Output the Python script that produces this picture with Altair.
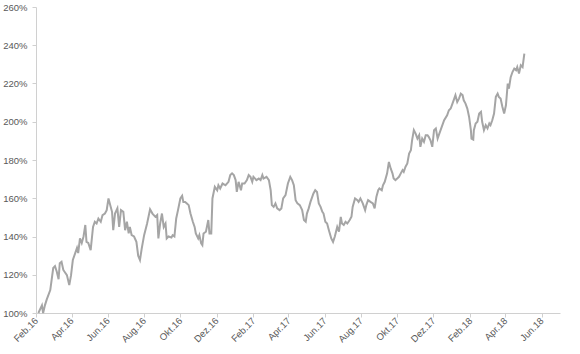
import altair as alt
import pandas as pd

# days since 2016-02-01
days = [4, 10, 12, 15, 18, 24, 29, 32, 35, 38, 40, 43, 46, 52, 56, 59, 62, 66, 69, 71,
        74, 77, 80, 83, 85, 88, 92, 96, 99, 102, 105, 109, 112, 116, 119, 122, 125, 128, 130, 133,
        137, 140, 143, 147, 150, 153, 156, 158, 161, 165, 169, 172, 175, 178, 182, 187, 192, 196, 201, 204,
        206, 209, 212, 215, 218, 220, 223, 228, 230, 233, 236, 239, 243, 246, 248, 251, 254, 257, 260, 264,
        267, 269, 273, 275, 278, 280, 282, 286, 290, 292, 295, 297, 301, 305, 307, 310, 314, 319, 324, 327,
        330, 333, 336, 338, 341, 345, 347, 351, 355, 358, 361, 364, 366, 371, 375, 378, 381, 383, 388, 392,
        395, 397, 400, 403, 406, 410, 413, 416, 420, 424, 428, 431, 434, 437, 440, 444, 448, 451, 454, 456,
        459, 462, 467, 470, 473, 476, 479, 482, 484, 487, 490, 493, 497, 500, 503, 507, 510, 513, 515, 518,
        521, 524, 528, 531, 533, 537, 541, 543, 546, 550, 554, 556, 559, 563, 567, 570, 573, 576, 578, 582,
        584, 587, 591, 594, 597, 600, 602, 605, 608, 611, 614, 617, 619, 622, 625, 628, 631, 633, 636, 639,
        642, 645, 647, 650, 653, 656, 659, 661, 664, 667, 670, 673, 676, 678, 681, 687, 692, 695, 698, 701,
        704, 706, 709, 712, 715, 718, 720, 723, 726, 729, 732, 733, 736, 737, 740, 743, 746, 749, 751, 754,
        757, 760, 763, 765, 768, 771, 774, 777, 779, 782, 785, 788, 791, 794, 796, 799, 802, 805, 808, 810,
        813, 816, 819, 822]

# performance in percent
values = [100.0, 104.0, 100.0, 104.0, 107.0, 112.0, 123.5, 124.5, 121.6, 117.7, 126.0, 126.8, 122.5, 119.8, 114.6, 119.8, 127.7, 131.3, 134.0, 131.3,
          139.0, 136.6, 140.0, 146.0, 137.2, 136.6, 132.9, 145.0, 147.7, 146.8, 149.4, 147.7, 151.2, 152.0, 153.8, 159.9, 156.4, 152.9, 143.3, 152.0,
          154.7, 145.0, 153.8, 152.9, 143.3, 147.7, 141.6, 145.0, 140.7, 140.0, 137.2, 130.0, 127.7, 133.8, 140.7, 146.8, 154.2, 152.0, 150.3, 151.2,
          139.0, 146.8, 152.0, 145.0, 146.8, 139.0, 140.0, 139.5, 140.7, 140.0, 149.4, 153.8, 159.9, 161.3, 158.1, 158.1, 157.3, 156.4, 152.0, 147.7,
          145.0, 141.6, 139.0, 140.7, 136.4, 135.5, 141.6, 142.5, 148.6, 141.6, 141.6, 159.9, 166.0, 164.2, 166.8, 165.1, 167.7, 166.8, 168.6, 172.1,
          173.0, 172.1, 169.5, 163.3, 168.6, 164.2, 167.7, 167.7, 169.5, 172.1, 171.2, 168.6, 171.2, 169.5, 170.3, 169.5, 172.1, 170.3, 171.2, 169.5,
          164.2, 156.4, 155.5, 157.3, 154.7, 153.8, 154.7, 159.9, 161.6, 167.7, 171.2, 169.5, 166.8, 159.0, 157.3, 156.4, 153.8, 148.6, 147.7, 152.0,
          154.7, 158.1, 162.5, 164.2, 163.3, 157.3, 155.5, 152.9, 152.0, 147.7, 146.8, 143.3, 139.0, 137.2, 140.0, 145.0, 142.5, 150.3, 146.8, 146.0,
          147.7, 146.8, 148.6, 150.3, 155.5, 159.9, 159.0, 158.1, 159.9, 157.3, 153.8, 156.4, 159.0, 158.1, 157.3, 154.7, 160.8, 164.2, 165.1, 164.2,
          166.8, 168.6, 173.0, 179.0, 175.6, 173.0, 170.3, 169.5, 170.3, 171.2, 173.0, 174.7, 173.8, 176.5, 178.2, 183.4, 185.1, 190.3, 195.6, 193.8,
          191.2, 193.0, 186.9, 191.2, 189.5, 193.0, 193.0, 192.1, 190.3, 186.9, 195.6, 196.5, 191.2, 193.0, 195.6, 200.8, 203.4, 206.0, 206.9, 209.5,
          212.1, 213.9, 210.3, 212.1, 214.7, 213.9, 211.2, 209.5, 206.9, 202.5, 195.6, 191.2, 190.7, 195.6, 199.1, 200.0, 204.3, 205.2, 200.0, 195.6,
          198.2, 196.5, 199.1, 198.2, 200.8, 204.3, 213.0, 214.7, 213.0, 212.1, 207.8, 204.3, 208.6, 219.9, 217.3, 223.3, 226.0, 227.8, 226.9, 228.6,
          225.2, 229.5, 228.6, 235.6]

tick_dates = ["2016-02-01", "2016-04-01", "2016-06-01", "2016-08-01", "2016-10-01", "2016-12-01",
              "2017-02-01", "2017-04-01", "2017-06-01", "2017-08-01", "2017-10-01", "2017-12-01",
              "2018-02-01", "2018-04-01", "2018-06-01"]
month_names = ["Jan", "Feb", "Mär", "Apr", "Mai", "Jun", "Jul", "Aug", "Sep", "Okt", "Nov", "Dez"]
y_ticks = [1.0, 1.2, 1.4, 1.6, 1.8, 2.0, 2.2, 2.4, 2.6]

start = pd.Timestamp("2016-02-01")
df = pd.DataFrame({
    "date": [(start + pd.Timedelta(days=d)).strftime("%Y-%m-%d") for d in days],
    "value": [v / 100 for v in values],
})

def dt(s):
    y, m, d = (int(p) for p in s.split("-"))
    return alt.DateTime(year=y, month=m, date=d, utc=True)

label_expr = ("[" + ",".join(f"'{m}'" for m in month_names) + "][utcmonth(datum.value)] + '.' + utcFormat(datum.value, '%y')")

axis_common = dict(
    domainColor="#d0d0d0", tickColor="#d0d0d0", grid=False,
    labelColor="#595959", labelFont="Liberation Sans", labelFontSize=9.5,
)

chart = alt.Chart(df).mark_line(color="#a5a5a5", strokeWidth=2).encode(
    x=alt.X("date:T",
            scale=alt.Scale(type="utc", domain=[dt("2016-02-01"), dt("2018-07-02")]),
            axis=alt.Axis(title=None, values=[dt(s) for s in tick_dates], labelExpr=label_expr,
                          labelAngle=-45, labelAlign="right", labelBaseline="middle",
                          tickSize=4, labelPadding=2, **axis_common)),
    y=alt.Y("value:Q",
            scale=alt.Scale(domain=[1.0, 2.6], nice=False, zero=False),
            axis=alt.Axis(title=None, values=y_ticks, format=".0%", tickSize=4,
                          labelPadding=5, **axis_common)),
).properties(
    width=524, height=306,
    autosize=alt.AutoSizeParams(type="none"),
    padding={"left": 36, "top": 7, "right": 20, "bottom": 41},
).configure_view(stroke=None)

chart.save("out.html", embed_options={"renderer": "svg", "actions": False})
